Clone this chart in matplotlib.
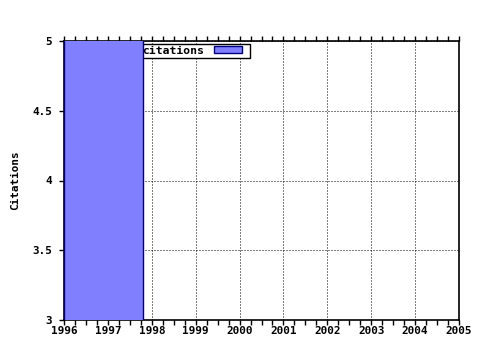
import matplotlib
matplotlib.use("Agg")
import matplotlib.pyplot as plt
from matplotlib.ticker import MultipleLocator
from matplotlib.font_manager import FontProperties
from matplotlib.patches import Rectangle
from matplotlib.legend_handler import HandlerPatch

# data
years = [1996]
citations = [6]
bar_widths = [1.8]
label = "citations"

font = {"family": "DejaVu Sans Mono", "weight": "bold", "size": 7.9}
legfont = {"family": "DejaVu Sans Mono", "weight": "bold", "size": 8.2}

fig = plt.figure(figsize=(4.8, 3.5), dpi=100)
ax = fig.add_axes([64/480, 1-320/350, 395/480, 279/350])

bars = ax.bar(years, citations, width=bar_widths, align="edge", color="#8080ff",
              edgecolor="#000080", linewidth=1, label=label, zorder=3)

ax.set_xlim(1996, 2005)
ax.set_ylim(3, 5)
ax.xaxis.set_minor_locator(MultipleLocator(0.25))
ax.set_yticks([3, 3.5, 4, 4.5, 5])
ax.set_yticklabels(["3", "3.5", "4", "4.5", "5"])
ax.set_xticks(range(1996, 2006))
ax.set_xticklabels([str(y) for y in range(1996, 2006)])

ax.tick_params(axis="x", which="both", direction="out", top=True, bottom=True,
               length=3.5, width=1, color="black", pad=1)
ax.tick_params(axis="y", which="major", direction="out", left=True, right=False,
               length=3.5, width=1, pad=5)
for lab in ax.get_xticklabels() + ax.get_yticklabels():
    lab.set_fontproperties(FontProperties(**font))

ax.grid(True, which="major", color="black", linestyle=(0, (1, 2)), linewidth=0.72, zorder=1)
ax.set_axisbelow(True)
for sp in ax.spines.values():
    sp.set_linewidth(1.2)
    sp.set_color("black")

ax.set_ylabel("Citations", fontdict=font, labelpad=9)


def short_rect(legend, orig_handle, xdescent, ydescent, width, height, fontsize):
    return Rectangle((-xdescent, -ydescent), width * 0.83, height)


leg = ax.legend([bars[0]], [label],
                loc="upper right", bbox_to_anchor=((250-64)/395, 1-(43.5-41)/279),
                markerfirst=False, fancybox=False, framealpha=1, edgecolor="black",
                borderpad=0.18, handlelength=3.0, handleheight=0.62, handletextpad=0.85,
                borderaxespad=0, prop=legfont,
                handler_map={Rectangle: HandlerPatch(patch_func=short_rect)})
leg.get_frame().set_linewidth(1)
leg.set_zorder(2)

fig.savefig("out.png", dpi=100)
